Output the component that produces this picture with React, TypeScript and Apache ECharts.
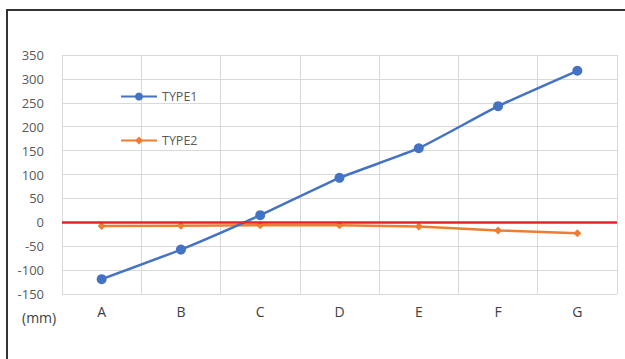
import React, { useEffect, useRef } from "react";
import * as echarts from "echarts";

const categories = ["A", "B", "C", "D", "E", "F", "G"];
const type1 = [-119, -57, 15, 93, 155, 243, 317];
const type2 = [-8, -7, -6, -6, -9, -17, -23];
const yTicks = { min: -150, max: 350, interval: 50 };

export default function App() {
  const ref = useRef<HTMLDivElement>(null);
  useEffect(() => {
    const chart = echarts.init(ref.current!, null, { renderer: "svg" });
    const font = "'Open Sans', 'Noto Sans', sans-serif";
    chart.setOption({
      animation: false,
      backgroundColor: "#fff",
      textStyle: { fontFamily: font },
      grid: { left: 62, right: 8, top: 55, bottom: 65, containLabel: false },
      legend: {
        orient: "vertical",
        left: 115,
        top: 85,
        itemWidth: 36,
        itemHeight: 10,
        itemGap: 31,
        textStyle: { color: "#595959", fontSize: 12.5, fontFamily: font },
        data: ["TYPE1", "TYPE2"],
      },
      xAxis: {
        type: "category",
        data: categories,
        boundaryGap: true,
        axisLine: { show: false },
        axisTick: { show: false },
        axisLabel: { color: "#404040", fontSize: 14, margin: 10, fontFamily: font },
        splitLine: { show: true, lineStyle: { color: "#D9D9D9", width: 1 } },
      },
      yAxis: {
        type: "value",
        min: yTicks.min,
        max: yTicks.max,
        interval: yTicks.interval,
        axisLine: { show: false },
        axisTick: { show: false },
        axisLabel: { color: "#595959", fontSize: 13, margin: 18, fontFamily: font },
        splitLine: { show: true, lineStyle: { color: "#D9D9D9", width: 1 } },
      },
      series: [
        {
          name: "TYPE1",
          type: "line",
          data: type1,
          smooth: 0.15,
          symbol: "circle",
          symbolSize: 10,
          itemStyle: { color: "#4472C4" },
          lineStyle: { color: "#4472C4", width: 2.5 },
          z: 3,
        },
        {
          name: "TYPE2",
          type: "line",
          data: type2,
          symbol: "diamond",
          symbolSize: 8,
          itemStyle: { color: "#ED7D31" },
          lineStyle: { color: "#ED7D31", width: 2.5 },
          z: 2,
          markLine: {
            silent: true,
            symbol: "none",
            label: { show: false },
            lineStyle: { color: "#E8202A", width: 2.5, type: "solid" },
            data: [{ yAxis: 0 }],
          },
        },
      ],
      graphic: [
        {
          type: "line",
          shape: { x1: 7, y1: 10, x2: 7, y2: 359 },
          style: { stroke: "#333", lineWidth: 2 },
        },
        {
          type: "line",
          shape: { x1: 6, y1: 10, x2: 625, y2: 10 },
          style: { stroke: "#333", lineWidth: 2 },
        },
        {
          type: "text",
          left: 22,
          top: 310,
          style: { text: "(mm)", fill: "#404040", fontSize: 14, fontFamily: font },
        },
      ],
    });
    return () => chart.dispose();
  }, []);
  return (
    <div
      ref={ref}
      style={{ position: "fixed", left: 0, top: 0, width: 625, height: 359 }}
    />
  );
}
